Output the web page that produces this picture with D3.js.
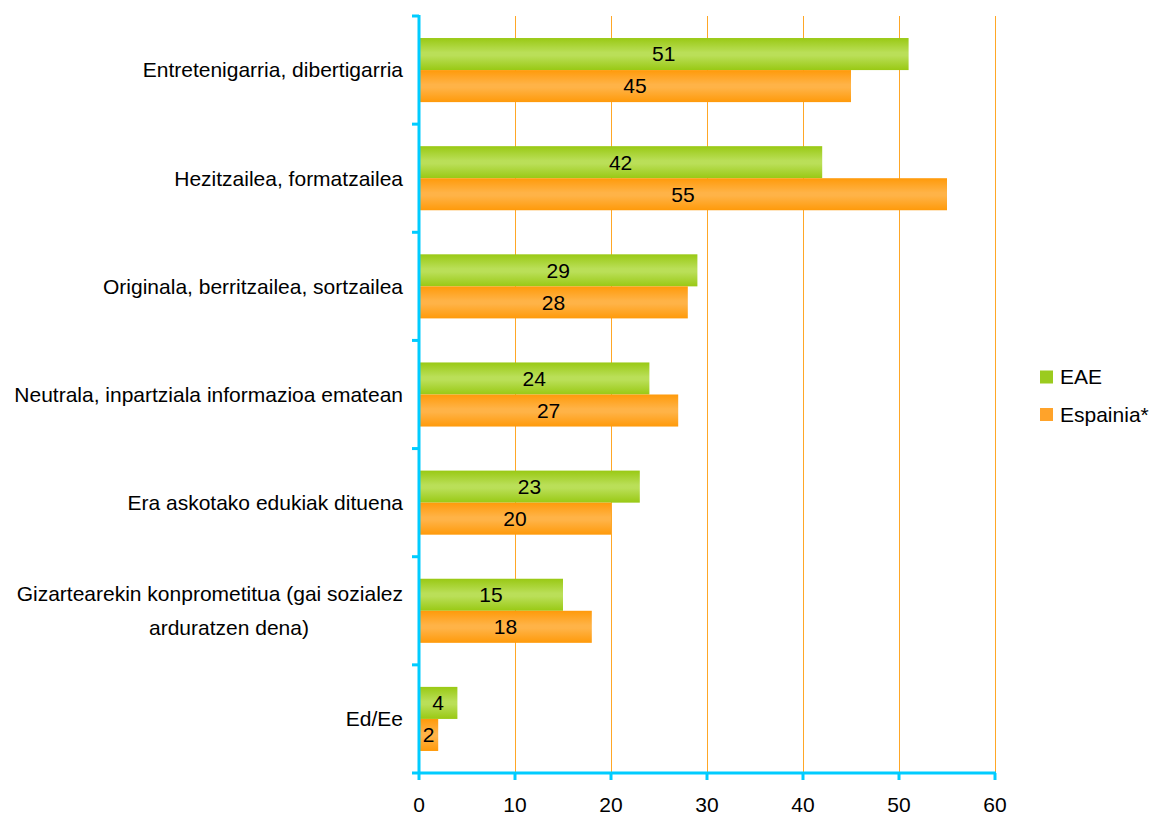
<!DOCTYPE html>
<html><head><meta charset="utf-8">
<script src="https://cdn.jsdelivr.net/npm/d3@7"></script>
<style>body{margin:0;background:#fff}svg{display:block}text{font-family:"Liberation Sans",Arial,sans-serif}</style>
</head><body>
<svg id="c" width="1149" height="815"></svg>
<script>
const categories = [
  ["Entretenigarria, dibertigarria"],
  ["Hezitzailea, formatzailea"],
  ["Originala, berritzailea, sortzailea"],
  ["Neutrala, inpartziala informazioa ematean"],
  ["Era askotako edukiak dituena"],
  ["Gizartearekin konprometitua (gai sozialez", "arduratzen dena)"],
  ["Ed/Ee"]
];
const seriesNames = ["EAE", "Espainia*"];
const eae = [51, 42, 29, 24, 23, 15, 4];
const espainia = [45, 55, 28, 27, 20, 18, 2];
const xTicks = [0, 10, 20, 30, 40, 50, 60];

(function () {
const svg = d3.select("#c");
const FS = 21;
const L = 419, R = 995, T = 16, B = 773;
const x = d3.scaleLinear().domain([0, 60]).range([L, R]);
const y = d3.scaleBand().domain(d3.range(categories.length)).range([T, B]).paddingInner(0).paddingOuter(0);
const inner = d3.scaleBand().domain([0, 1]).range([0, y.bandwidth()]).paddingOuter(0.6875).paddingInner(0);

const defs = svg.append("defs");
function grad(id, edge, mid) {
  const g = defs.append("linearGradient").attr("id", id).attr("x1", 0).attr("y1", 0).attr("x2", 0).attr("y2", 1);
  g.append("stop").attr("offset", "0%").attr("stop-color", edge);
  g.append("stop").attr("offset", "45%").attr("stop-color", mid);
  g.append("stop").attr("offset", "55%").attr("stop-color", mid);
  g.append("stop").attr("offset", "100%").attr("stop-color", edge);
}
grad("gG", "#99C914", "#BADF58");
grad("gO", "#FF9A0A", "#FFB347");
const fills = ["url(#gG)", "url(#gO)"];
const legendFills = ["#9BCB1E", "#FFA32A"];

// gridlines
svg.append("g").selectAll("line").data(xTicks.slice(1)).join("line")
  .attr("x1", d => Math.round(x(d)) + 0.5).attr("x2", d => Math.round(x(d)) + 0.5)
  .attr("y1", T).attr("y2", B)
  .attr("stroke", "#FFA726").attr("stroke-width", 1);

// bars
const data = categories.map((c, i) => [eae[i], espainia[i]]);
const groups = svg.append("g").selectAll("g").data(data).join("g")
  .attr("transform", (d, i) => `translate(0,${y(i)})`);
groups.selectAll("rect").data(d => d).join("rect")
  .attr("x", x(0)).attr("y", (d, j) => inner(j))
  .attr("width", d => x(d) - x(0)).attr("height", inner.bandwidth())
  .attr("fill", (d, j) => fills[j]);
groups.selectAll("text").data(d => d).join("text")
  .attr("x", d => (x(0) + x(d)) / 2).attr("y", (d, j) => inner(j) + inner.bandwidth() / 2)
  .attr("dy", "0.35em").attr("text-anchor", "middle")
  .attr("font-size", FS).attr("fill", "#000").text(d => d);

// axes
const axisColor = "#00CCFF";
svg.append("line").attr("x1", L).attr("x2", L).attr("y1", T - 1).attr("y2", B + 1)
  .attr("stroke", axisColor).attr("stroke-width", 3);
svg.append("line").attr("x1", L - 1).attr("x2", R + 1).attr("y1", B).attr("y2", B)
  .attr("stroke", axisColor).attr("stroke-width", 3);
const yBounds = d3.range(categories.length + 1).map(i => T + i * y.step());
svg.append("g").selectAll("line").data(yBounds).join("line")
  .attr("x1", L - 7).attr("x2", L).attr("y1", d => d).attr("y2", d => d)
  .attr("stroke", axisColor).attr("stroke-width", 3);
svg.append("g").selectAll("line").data(xTicks).join("line")
  .attr("x1", d => x(d)).attr("x2", d => x(d)).attr("y1", B).attr("y2", B + 7)
  .attr("stroke", axisColor).attr("stroke-width", 3);
svg.append("g").selectAll("text").data(xTicks).join("text")
  .attr("x", d => x(d)).attr("y", 805).attr("dy", "0.35em")
  .attr("text-anchor", "middle").attr("font-size", FS).attr("fill", "#000").text(d => d);

// category labels
const lab = svg.append("g").selectAll("text").data(categories).join("text")
  .attr("font-size", FS).attr("fill", "#000")
  .attr("y", (d, i) => y(i) + y.bandwidth() / 2 - (d.length - 1) * 17);
lab.selectAll("tspan").data(d => d).join("tspan")
  .attr("x", (d, k) => k === 0 ? 403 : 229)
  .attr("text-anchor", (d, k) => k === 0 ? "end" : "middle")
  .attr("dy", (d, k) => k === 0 ? "0.35em" : 34).text(d => d);

// legend
const leg = svg.append("g").selectAll("g").data(seriesNames).join("g")
  .attr("transform", (d, i) => `translate(1040,${377 + i * 37.5})`);
leg.append("rect").attr("x", 0).attr("y", -6.5).attr("width", 13).attr("height", 13)
  .attr("fill", (d, i) => legendFills[i]);
leg.append("text").attr("x", 20).attr("y", 0).attr("dy", "0.35em")
  .attr("font-size", FS).attr("fill", "#000").text(d => d);
})();
</script>
</body></html>
